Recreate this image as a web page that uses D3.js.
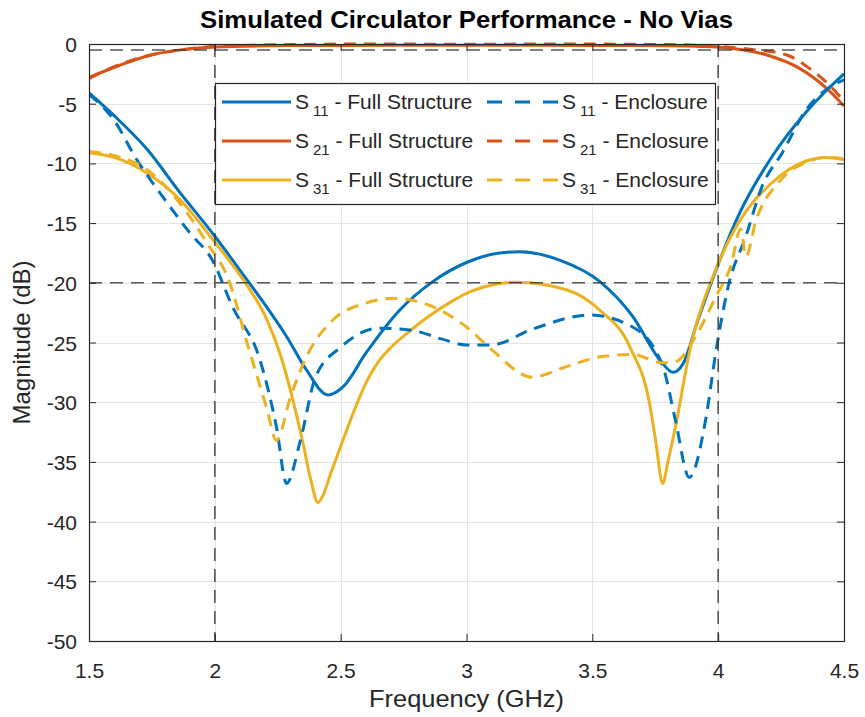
<!DOCTYPE html>
<html>
<head>
<meta charset="utf-8">
<script src="https://cdn.jsdelivr.net/npm/d3@7"></script>
<style>
  html, body { margin: 0; padding: 0; background: #fff; }
  svg { display: block; font-family: "Liberation Sans", Arial, Helvetica, sans-serif; }
</style>
</head>
<body>
<svg id="chart" width="865" height="717"></svg>
<script>
// Frequency ticks (GHz) and magnitude ticks (dB)
const xTicks = [1.5, 2, 2.5, 3, 3.5, 4, 4.5];
const yTicks = [0, -5, -10, -15, -20, -25, -30, -35, -40, -45, -50];

// S11 - Full Structure
const s11FullFreq = [1.5,1.6,1.73,1.86,2.0,2.126,2.205,2.285,2.364,2.45,2.51,2.6,2.734,2.866,3.0,3.13,3.21,3.37,3.53,3.66,3.77,3.82,3.86,3.92,3.99,4.08,4.215,4.35,4.43,4.5];
const s11FullDb   = [-4.1,-6.0,-8.8,-12.4,-16.1,-19.7,-22.0,-24.5,-27.3,-29.4,-28.7,-25.9,-22.3,-19.9,-18.3,-17.5,-17.4,-18.1,-19.9,-22.8,-26.5,-27.5,-26.8,-23.1,-19.0,-14.4,-9.4,-5.7,-3.9,-2.5];

// S21 - Full Structure
const s21FullFreq = [1.5,1.62,1.75,1.88,2.0,2.2,2.5,3.0,3.5,3.8,3.93,4.05,4.19,4.32,4.43,4.5];
const s21FullDb   = [-2.8,-1.8,-0.9,-0.45,-0.25,-0.15,-0.12,-0.1,-0.12,-0.15,-0.2,-0.35,-0.9,-2.0,-3.7,-5.2];

// S31 - Full Structure
const s31FullFreq = [1.5,1.6,1.73,1.86,2.0,2.07,2.14,2.205,2.26,2.31,2.35,2.38,2.41,2.43,2.46,2.5,2.55,2.6,2.65,2.7,2.76,2.85,2.93,3.02,3.12,3.2,3.4,3.53,3.65,3.73,3.75,3.78,3.8,3.83,3.885,3.99,4.08,4.215,4.35,4.43,4.5];
const s31FullDb   = [-9.1,-9.5,-10.8,-13.0,-16.6,-18.5,-20.6,-23.0,-26.0,-29.8,-33.4,-36.4,-38.4,-37.8,-36.0,-33.7,-30.9,-28.4,-26.6,-25.4,-24.3,-22.8,-21.7,-20.7,-20.1,-19.95,-20.6,-22.3,-25.4,-30.4,-33.0,-36.8,-35.0,-32.1,-25.9,-18.9,-15.0,-11.6,-9.8,-9.5,-9.7];

// S11 - Enclosure
const s11EncFreq = [1.5,1.6,1.69,1.79,1.9,1.99,2.07,2.18,2.245,2.285,2.34,2.4,2.5,2.655,2.787,2.9,3.0,3.1,3.26,3.49,3.66,3.78,3.83,3.885,3.95,3.99,4.04,4.11,4.175,4.255,4.35,4.43,4.5];
const s11EncDb   = [-4.2,-6.4,-9.7,-12.7,-15.8,-18.1,-22.0,-26.5,-32.1,-36.8,-33.2,-27.9,-25.4,-23.8,-24.0,-24.7,-25.2,-25.2,-23.9,-22.7,-23.7,-27.0,-31.5,-36.3,-31.5,-25.9,-20.3,-16.1,-11.9,-9.1,-5.5,-3.8,-3.0];

// S21 - Enclosure
const s21EncFreq = [1.5,1.6,1.75,1.9,2.0,2.3,2.6,3.0,3.4,3.8,4.0,4.15,4.27,4.36,4.44,4.5];
const s21EncDb   = [-2.9,-1.9,-0.9,-0.4,-0.2,-0.05,0.0,-0.02,0.0,-0.05,-0.2,-0.5,-0.9,-2.0,-3.4,-4.8];

// S31 - Enclosure
const s31EncFreq = [1.5,1.61,1.73,1.86,1.97,2.05,2.14,2.205,2.245,2.3,2.364,2.47,2.6,2.71,2.866,3.0,3.1,3.26,3.4,3.53,3.66,3.78,3.83,3.91,3.99,4.05,4.09,4.11,4.15,4.24,4.35,4.43,4.5];
const s31EncDb   = [-9.0,-9.4,-10.5,-13.3,-16.7,-19.5,-25.9,-30.4,-33.2,-29.6,-26.2,-23.1,-21.7,-21.3,-22.0,-23.7,-25.6,-27.9,-27.0,-26.2,-26.0,-26.7,-26.6,-24.5,-21.2,-18.6,-15.5,-17.8,-14.8,-11.6,-9.9,-9.5,-9.6];

// Dashed reference levels
const refLevelsDb = [-0.5, -20];
const refFreqs = [2, 4];

const legendLabels = ["11", "21", "31"];

const colors = { s11: "#0072BD", s21: "#D95319", s31: "#EDB120" };

const series = [
  { f: s11FullFreq, v: s11FullDb, color: colors.s11, dashed: false },
  { f: s21FullFreq, v: s21FullDb, color: colors.s21, dashed: false },
  { f: s31FullFreq, v: s31FullDb, color: colors.s31, dashed: false },
  { f: s11EncFreq,  v: s11EncDb,  color: colors.s11, dashed: true },
  { f: s21EncFreq,  v: s21EncDb,  color: colors.s21, dashed: true },
  { f: s31EncFreq,  v: s31EncDb,  color: colors.s31, dashed: true }
];

const svg = d3.select("#chart");
const box = { left: 89, right: 844, top: 44, bottom: 641 };

const x = d3.scaleLinear().domain([1.5, 4.5]).range([box.left, box.right]);
const y = d3.scaleLinear().domain([-50, 0]).range([box.bottom, box.top]);

const axisColor = "#262626";
const fmt = d => String(d);

// grid
const grid = svg.append("g").attr("stroke", "#e4e4e4").attr("stroke-width", 1);
grid.selectAll(".gx").data(xTicks).join("line")
  .attr("x1", d => Math.round(x(d)) + 0.5).attr("x2", d => Math.round(x(d)) + 0.5)
  .attr("y1", box.top).attr("y2", box.bottom);
grid.selectAll(".gy").data(yTicks).join("line")
  .attr("y1", d => Math.round(y(d)) + 0.5).attr("y2", d => Math.round(y(d)) + 0.5)
  .attr("x1", box.left).attr("x2", box.right);

// curves
svg.append("clipPath").attr("id", "plotclip")
  .append("rect").attr("x", box.left).attr("y", box.top - 2)
  .attr("width", box.right - box.left).attr("height", box.bottom - box.top + 2);

const line = d3.line().x(d => x(d[0])).y(d => y(d[1])).curve(d3.curveMonotoneX);
const curves = svg.append("g").attr("clip-path", "url(#plotclip)");
series.forEach(s => {
  const pts = s.f.map((f, i) => [f, s.v[i]]);
  curves.append("path")
    .attr("d", line(pts))
    .attr("fill", "none")
    .attr("stroke", s.color)
    .attr("stroke-width", 3)
    .attr("stroke-linejoin", "round")
    .attr("stroke-dasharray", s.dashed ? "12,8" : null);
});

// reference lines
const refs = svg.append("g").attr("stroke", "#3a3a3a").attr("stroke-width", 1.6)
  .attr("stroke-dasharray", "13,8").attr("opacity", 0.85);
refs.selectAll(".rh").data(refLevelsDb).join("line")
  .attr("x1", box.left).attr("x2", box.right)
  .attr("y1", d => y(d)).attr("y2", d => y(d));
refs.selectAll(".rv").data(refFreqs).join("line")
  .attr("x1", d => x(d)).attr("x2", d => x(d))
  .attr("y1", box.top).attr("y2", box.bottom);

// axes with inward ticks
const tickLen = 7;
const ax = svg.append("g");

const axBottom = ax.append("g").attr("transform", `translate(0,${box.bottom})`)
  .call(d3.axisBottom(x).tickValues(xTicks).tickFormat(fmt).tickSize(-tickLen).tickPadding(22));
const axTop = ax.append("g").attr("transform", `translate(0,${box.top})`)
  .call(d3.axisTop(x).tickValues(xTicks).tickFormat("").tickSize(-tickLen));
const axLeft = ax.append("g").attr("transform", `translate(${box.left},0)`)
  .call(d3.axisLeft(y).tickValues(yTicks).tickFormat(fmt).tickSize(-tickLen).tickPadding(12));
const axRight = ax.append("g").attr("transform", `translate(${box.right},0)`)
  .call(d3.axisRight(y).tickValues(yTicks).tickFormat("").tickSize(-tickLen));

[axBottom, axTop, axLeft, axRight].forEach(g => {
  g.attr("font-size", 21).attr("font-family", null);
  g.select(".domain").remove();
  g.selectAll(".tick line").attr("stroke", axisColor);
  g.selectAll(".tick text").attr("fill", axisColor);
});
axLeft.selectAll(".tick text").attr("dy", "0.36em");

svg.append("rect")
  .attr("x", box.left + 0.5).attr("y", box.top + 0.5)
  .attr("width", box.right - box.left).attr("height", box.bottom - box.top)
  .attr("fill", "none").attr("stroke", axisColor).attr("stroke-width", 1.2);

// title and axis labels
svg.append("text")
  .attr("x", (box.left + box.right) / 2).attr("y", 28)
  .attr("text-anchor", "middle").attr("font-size", 24).attr("font-weight", "bold")
  .attr("fill", "#000")
  .attr("textLength", 533).attr("lengthAdjust", "spacingAndGlyphs")
  .text("Simulated Circulator Performance - No Vias");

svg.append("text")
  .attr("x", (box.left + box.right) / 2).attr("y", 707)
  .attr("text-anchor", "middle").attr("font-size", 24).attr("fill", axisColor)
  .attr("textLength", 195).attr("lengthAdjust", "spacingAndGlyphs")
  .text("Frequency (GHz)");

svg.append("text")
  .attr("transform", `translate(30,${(box.top + box.bottom) / 2}) rotate(-90)`)
  .attr("text-anchor", "middle").attr("font-size", 24).attr("fill", axisColor)
  .text("Magnitude (dB)");

// legend
const lg = svg.append("g");
const lgBox = { x: 215, y: 83, w: 500, h: 121 };
lg.append("rect")
  .attr("x", lgBox.x + 0.5).attr("y", lgBox.y + 0.5)
  .attr("width", lgBox.w).attr("height", lgBox.h)
  .attr("fill", "#fff").attr("stroke", axisColor).attr("stroke-width", 1.2);

const rowY = [102, 141, 180];
const columns = [
  { x0: 222, x1: 291, tx: 295, suffix: " - Full Structure", dashed: false },
  { x0: 487, x1: 558, tx: 562, suffix: " - Enclosure", dashed: true }
];
const rowColors = [colors.s11, colors.s21, colors.s31];

columns.forEach(col => {
  legendLabels.forEach((sub, i) => {
    const yy = rowY[i];
    lg.append("line")
      .attr("x1", col.x0).attr("x2", col.x1)
      .attr("y1", yy).attr("y2", yy)
      .attr("stroke", rowColors[i]).attr("stroke-width", 3)
      .attr("stroke-dasharray", col.dashed ? "15,13" : null);
    const t = lg.append("text")
      .attr("x", col.tx).attr("y", yy + 7)
      .attr("font-size", 21).attr("fill", axisColor);
    t.append("tspan").text("S");
    t.append("tspan").attr("dx", 4).attr("dy", 7).attr("font-size", 15).text(sub);
    t.append("tspan").attr("dy", -7).text(col.suffix);
  });
});
</script>
</body>
</html>
